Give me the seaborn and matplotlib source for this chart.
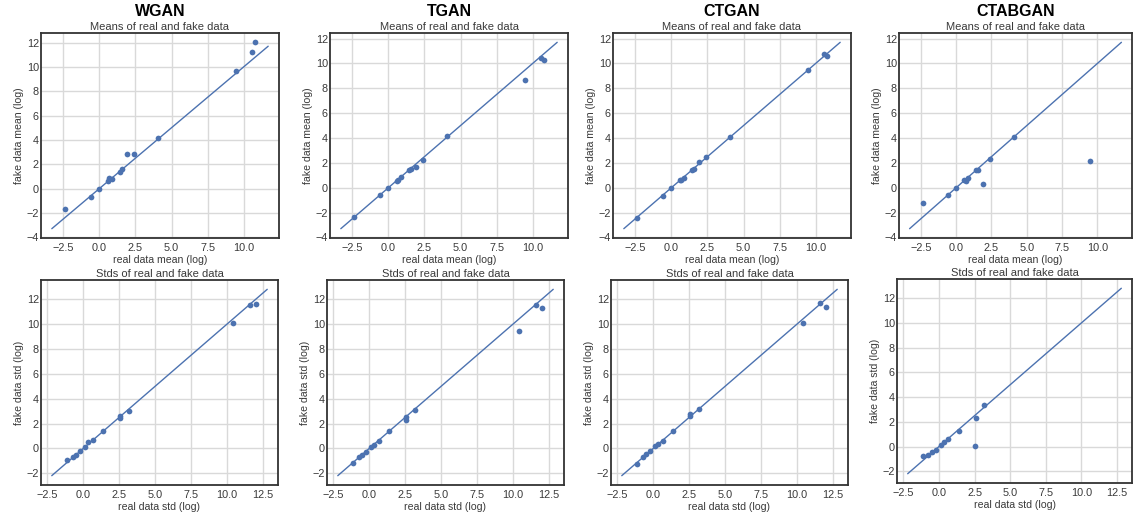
import numpy as np
import pandas as pd
import matplotlib
matplotlib.use("Agg")
import matplotlib.pyplot as plt
import seaborn as sns

# Models compared, one column each
models = ["WGAN", "TGAN", "CTGAN", "CTABGAN"]

# Log of per-column means of the real data
real_mean = [-2.37, -0.61, 0.0, 0.58, 0.68, 0.84, 1.40, 1.55, 1.93, 2.39, 4.08, 9.49, 10.57, 10.79]

# Log of per-column means of the synthetic data
fake_mean_wgan = [-1.66, -0.72, 0.0, 0.58, 0.86, 0.80, 1.33, 1.61, 2.83, 2.83, 4.13, 9.64, 11.22, 12.02]
fake_mean_tgan = [-2.32, -0.57, -0.05, 0.54, 0.59, 0.84, 1.43, 1.49, 1.70, 2.19, 4.14, 8.68, 10.46, 10.30]
fake_mean_ctgan = [-2.43, -0.68, -0.03, 0.59, 0.65, 0.78, 1.43, 1.54, 2.05, 2.43, 4.05, 9.51, 10.78, 10.62]
fake_mean_ctabgan = [-1.22, -0.57, 0.0, 0.65, 0.51, 0.81, 1.41, 1.46, 0.30, 2.30, 4.05, 2.11, np.nan, np.nan]

# Log of per-column standard deviations of the real data
real_std = [-1.15, -0.75, -0.51, -0.24, 0.12, 0.35, 0.66, 1.38, 2.52, 2.58, 3.18, 10.45, 11.62, 12.02]

# Log of per-column standard deviations of the synthetic data
fake_std_wgan = [-0.95, -0.73, -0.51, -0.22, 0.14, 0.51, 0.65, 1.41, 2.45, 2.57, 3.00, 10.05, 11.54, 11.63]
fake_std_tgan = [-1.17, -0.70, -0.54, -0.27, 0.14, 0.27, 0.60, 1.38, 2.30, 2.49, 3.12, 9.46, 11.57, 11.33]
fake_std_ctgan = [-1.22, -0.73, -0.46, -0.22, 0.16, 0.35, 0.59, 1.41, 2.76, 2.62, 3.14, 10.08, 11.73, 11.38]
fake_std_ctabgan = [-0.76, -0.71, -0.43, -0.27, 0.16, 0.35, 0.60, 1.25, 0.08, 2.28, 3.32, np.nan, np.nan, np.nan]

# End points of the y = x reference lines
mean_line = [-3.3, 11.7]
std_line = [-2.2, 12.8]

fake_means = [fake_mean_wgan, fake_mean_tgan, fake_mean_ctgan, fake_mean_ctabgan]
fake_stds = [fake_std_wgan, fake_std_tgan, fake_std_ctgan, fake_std_ctabgan]

sns.set_theme(style="whitegrid")
plt.rcParams["font.family"] = ["Liberation Sans", "DejaVu Sans"]
plt.rcParams["axes.edgecolor"] = "#333333"
plt.rcParams["axes.linewidth"] = 1.3
plt.rcParams["grid.color"] = "#d9d9d9"
plt.rcParams["grid.linewidth"] = 1.0

W, H = 1137, 516
fig = plt.figure(figsize=(W / 100, H / 100), dpi=100)


def frac(left, top, width, height):
    return [left / W, 1 - (top + height) / H, width / W, height / H]


top_boxes = [(41, 33, 238, 205), (330, 33, 238, 205), (613, 33, 238, 205), (899, 33, 233, 205)]
bot_boxes = [(41, 280, 237, 205), (327, 280, 237, 205), (611, 280, 237, 205), (897, 279, 235, 204)]

color = sns.color_palette("deep")[0]
text_color = "#3a3a3a"
tick_fs = 7.8
label_fs = 7.6
title_fs = 8.0


def panel(ax, real, fake, line, title, xlabel, ylabel):
    df = pd.DataFrame({"real": real, "fake": fake}).dropna()
    sns.lineplot(x=line, y=line, ax=ax, color=color, linewidth=1.0)
    sns.scatterplot(data=df, x="real", y="fake", ax=ax, color=color,
                    s=17, linewidth=0)
    ax.set_title(title, fontsize=title_fs, pad=2.5, color=text_color)
    ax.set_xlabel(xlabel, fontsize=label_fs, labelpad=1.5, color=text_color)
    ax.set_ylabel(ylabel, fontsize=label_fs, labelpad=2, color=text_color)
    ax.tick_params(labelsize=tick_fs, colors=text_color, length=0)
    ax.tick_params(axis="x", pad=3.5)
    ax.tick_params(axis="y", pad=1.5)
    for sp in ax.spines.values():
        sp.set_visible(True)
        sp.set_color("#333333")


for i, model in enumerate(models):
    ax_m = fig.add_axes(frac(*top_boxes[i]))
    panel(ax_m, real_mean, fake_means[i], mean_line,
          "Means of real and fake data", "real data mean (log)", "fake data mean (log)")
    ax_s = fig.add_axes(frac(*bot_boxes[i]))
    panel(ax_s, real_std, fake_stds[i], std_line,
          "Stds of real and fake data", "real data std (log)", "fake data std (log)")

    l, t, w, h = top_boxes[i]
    fig.text((l + w / 2) / W, 1 - 12 / H, model, ha="center", va="center",
             fontsize=11.5, fontweight="bold", color="black")

fig.savefig("out.png", dpi=100)
